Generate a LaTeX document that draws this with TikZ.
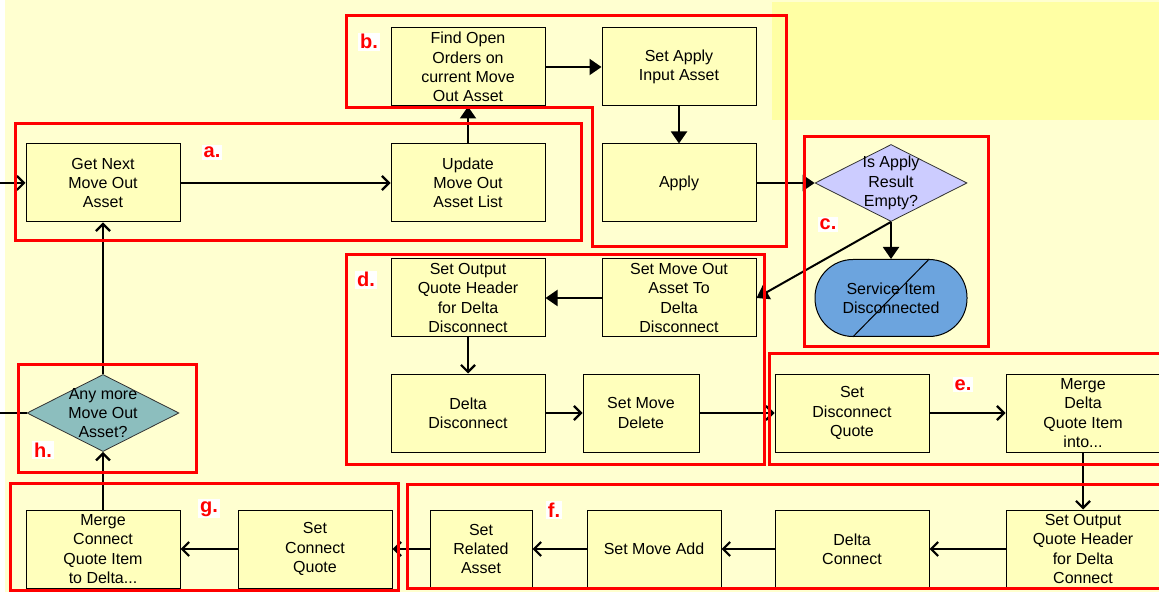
\documentclass[tikz,border=0pt]{standalone}
\usepackage{fontspec}
\setmainfont{Liberation Sans}
\usetikzlibrary{arrows.meta,shapes.geometric,calc}

\definecolor{bgyellow}{HTML}{FFFFD0}
\definecolor{plainyellow}{HTML}{FFFFA4}
\definecolor{stepyellow}{HTML}{FFFFBC}
\definecolor{lavender}{HTML}{CCCCFF}
\definecolor{tealgrey}{HTML}{8CBEBE}
\definecolor{endblue}{HTML}{6CA4DE}

\begin{document}
\begin{tikzpicture}[x=0.5pt,y=-0.5pt,
    steptext/.style={align=center,font=\fontsize{8}{9.6}\selectfont},
    stepbox/.style={steptext,draw=black,line width=0.5pt,fill=stepyellow,minimum width=77pt,minimum height=39pt,inner sep=1pt},
    decision/.style={diamond,draw=black!80,line width=0.4pt,minimum width=76pt,minimum height=38.5pt,inner sep=0pt},
    flow/.style={line width=1pt,-{Straight Barb[length=3.5pt,width=7pt,line width=1.1pt]}},
    solidflow/.style={line width=1pt,-{Triangle[length=6pt,width=8pt]}},
    frame/.style={draw=red,line width=1.5pt},
    tag/.style={text=red,font=\bfseries\fontsize{10}{12}\selectfont,fill=white,inner sep=1pt,anchor=base}]

  % background
  \useasboundingbox (0,0) rectangle (1159,592);
  \fill[white] (0,0) rectangle (1159,592);
  \fill[bgyellow] (5,0) rectangle (1159,592);
  \fill[plainyellow] (772,2) rectangle (1159,120);

  % a. next asset
  \node[stepbox] (getnext) at (103,183) {Get Next\\Move Out\\Asset};
  \node[stepbox] (update) at (468,183) {Update\\Move Out\\Asset List};

  % b. open orders and apply
  \node[stepbox] (findopen) at (468,67) {Find Open\\Orders on\\current Move\\Out Asset};
  \node[stepbox] (applyinput) at (679,67) {Set Apply\\Input Asset};
  \node[stepbox] (apply) at (679,183) {Apply};

  % c. result check
  \node[decision,fill=lavender,label={[steptext]center:Is Apply\\Result\\Empty?}] (isempty) at (891,183) {};
  \node[steptext,draw=black,line width=0.5pt,fill=endblue,minimum width=76pt,minimum height=38.5pt,rounded corners=19pt] (svcdisc) at (891,298) {Service Item\\Disconnected};
  \draw[line width=0.5pt] ($(svcdisc.south west)!0.25!(svcdisc.south east)$) -- ($(svcdisc.north west)!0.75!(svcdisc.north east)$);

  % d. delta disconnect
  \node[stepbox] (headerdisc) at (468,298) {Set Output\\Quote Header\\for Delta\\Disconnect};
  \node[stepbox] (movetodisc) at (679,298) {Set Move Out\\Asset To\\Delta\\Disconnect};
  \node[stepbox] (deltadisc) at (468,413) {Delta\\Disconnect};
  \node[stepbox,minimum width=58pt] (movedelete) at (641,413) {Set Move\\Delete};

  % e. disconnect quote
  \node[stepbox] (discquote) at (852,413) {Set\\Disconnect\\Quote};
  \node[stepbox] (mergedelta) at (1083,413) {Merge\\Delta\\Quote Item\\into...};

  % f. delta connect
  \node[stepbox] (headerconn) at (1083,549) {Set Output\\Quote Header\\for Delta\\Connect};
  \node[stepbox] (deltaconn) at (852,549) {Delta\\Connect};
  \node[stepbox,minimum width=67pt] (moveadd) at (654,549) {Set Move Add};
  \node[stepbox,minimum width=51pt] (related) at (481,549) {Set\\Related\\Asset};

  % g. connect quote
  \node[stepbox] (connquote) at (315,549) {Set\\Connect\\Quote};
  \node[stepbox] (mergeconn) at (103,549) {Merge\\Connect\\Quote Item\\to Delta...};

  % h. loop check
  \node[decision,fill=tealgrey,label={[steptext]center:Any more\\Move Out\\Asset?}] (anymore) at (103,413) {};

  % loose ends
  \coordinate (entry) at (0,183);
  \coordinate (exit) at (0,413);

  % connectors
  \draw[flow] (entry) -- (getnext);
  \draw[flow] (getnext) -- (update);
  \draw[solidflow] (update) -- (findopen);
  \draw[solidflow] (findopen.east |- 0,67) -- (applyinput);
  \draw[solidflow] (applyinput) -- (apply);
  \draw[solidflow] (apply) -- (isempty);
  \draw[solidflow] (isempty) -- (svcdisc);
  \draw[solidflow] (isempty.south) -- (movetodisc.east);
  \draw[solidflow] (movetodisc) -- (headerdisc);
  \draw[flow] (headerdisc) -- (deltadisc);
  \draw[flow] (deltadisc) -- (movedelete);
  \draw[flow] (movedelete) -- (discquote);
  \draw[flow] (discquote) -- (mergedelta);
  \draw[flow] (mergedelta) -- (headerconn);
  \draw[flow] (headerconn) -- (deltaconn);
  \draw[flow] (deltaconn) -- (moveadd);
  \draw[flow] (moveadd) -- (related);
  \draw[flow] (related) -- (connquote);
  \draw[flow] (connquote) -- (mergeconn);
  \draw[flow] (mergeconn) -- (anymore);
  \draw[flow] (anymore) -- (getnext);
  \draw[line width=1pt] (anymore.west) -- (exit);

  % red frames
  \draw[frame] (15,124) rectangle (581,241);
  \draw[frame] (346,16) -- (786,16) -- (786,247) -- (592,247) -- (592,108) -- (346,108) -- cycle;
  \draw[frame] (804,137) rectangle (988,347);
  \draw[frame] (346,255) rectangle (764,464);
  \draw[frame] (769,354) rectangle (1162,464);
  \draw[frame] (407,484) rectangle (1162,588);
  \draw[frame] (10,483) rectangle (398,590);
  \draw[frame] (18,365) rectangle (196,472);

  % frame tags
  \node[tag] (taga) at (212,158) {a.};
  \node[tag] (tagb) at (369,49) {b.};
  \node[tag] (tagc) at (828,230) {c.};
  \node[tag] (tagd) at (366,287) {d.};
  \node[tag] (tage) at (963,390) {e.};
  \node[tag] (tagf) at (554,517) {f.};
  \node[tag] (tagg) at (209,512) {g.};
  \node[tag] (tagh) at (43,457) {h.};
\end{tikzpicture}
\end{document}
